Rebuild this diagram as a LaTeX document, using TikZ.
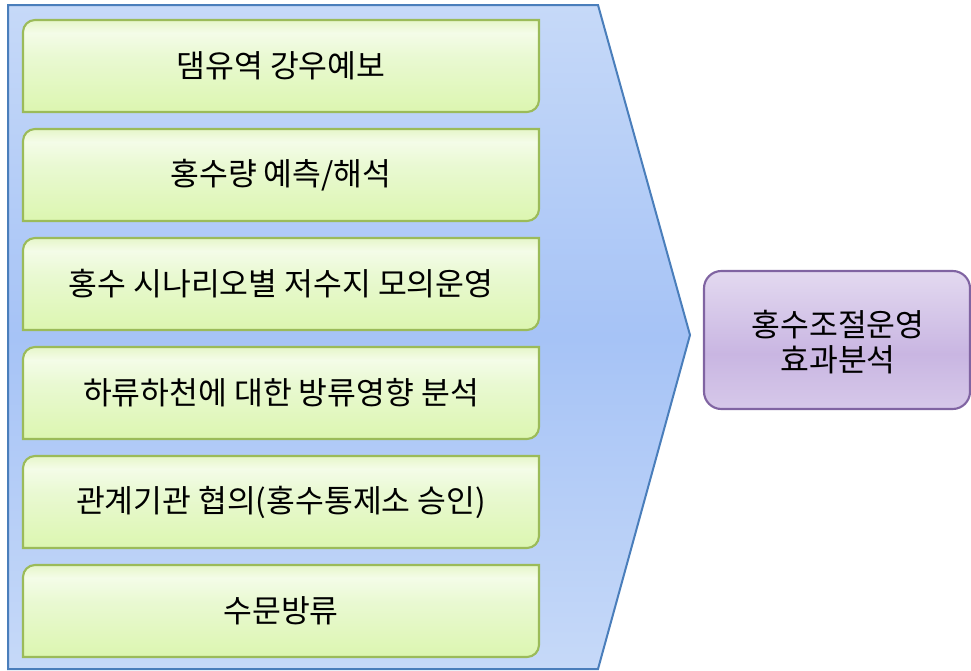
\documentclass[tikz,border=0pt]{standalone}
\usepackage{fontspec}
\newfontfamily\krfont{Noto Sans CJK KR}
\definecolor{blueEdge}{HTML}{4A7EBB}
\definecolor{blueTop}{HTML}{C6D9F8}
\definecolor{blueMid}{HTML}{A6C3F6}
\definecolor{greenEdge}{HTML}{9BBB59}
\definecolor{gTop}{HTML}{E6F6C9}
\definecolor{gHi}{HTML}{F4FCE8}
\definecolor{gMid}{HTML}{E9F9D2}
\definecolor{gBot}{HTML}{DCF6B0}
\definecolor{purpEdge}{HTML}{8064A2}
\definecolor{pTop}{HTML}{E3D9F0}
\definecolor{pMid}{HTML}{C9B6E2}
\definecolor{pBot}{HTML}{D6C8E9}
\pgfdeclareverticalshading{greensh}{100bp}{color(0bp)=(gBot); color(25bp)=(gBot); color(55bp)=(gMid); color(68bp)=(gHi); color(75bp)=(gTop); color(100bp)=(gTop)}
\pgfdeclareverticalshading{bluesh}{100bp}{color(0bp)=(blueTop); color(25bp)=(blueTop); color(50bp)=(blueMid); color(75bp)=(blueTop); color(100bp)=(blueTop)}
\pgfdeclareverticalshading{purpsh}{100bp}{color(0bp)=(pBot); color(25bp)=(pBot); color(45bp)=(pMid); color(75bp)=(pTop); color(100bp)=(pTop)}
\tikzset{
  chevron/.style={draw=blueEdge, line width=1.5pt, shading=bluesh, line join=miter},
  greenshape/.style={draw=greenEdge, line width=1.6pt, shading=greensh},
  gtext/.style={font=\krfont\fontsize{23.5}{28}\selectfont, text=black, inner sep=0pt},
  purpbox/.style={draw=purpEdge, line width=1.6pt, shading=purpsh, rounded corners=13pt},
  ptext/.style={font=\krfont\fontsize{23.5}{26}\selectfont, text=black, align=center, inner sep=0pt},
}
\newcommand{\gbox}[3]{%
  \pgfmathsetmacro{\ya}{#2}\pgfmathsetmacro{\yb}{#2+92}%
  \path[greenshape] (23,\ya+12) .. controls (23,\ya+5.4) and (28.4,\ya) .. (35,\ya)
    -- (539,\ya) -- (539,\yb-12) .. controls (539,\yb-5.4) and (533.6,\yb) .. (527,\yb)
    -- (23,\yb) -- cycle;
  \node[gtext] (#1) at (281,\ya+46) {#3};}
\begin{document}
\begin{tikzpicture}[x=0.75pt,y=-0.75pt]
\useasboundingbox (0,0) rectangle (971,671);
\path[chevron] (8,5) -- (598,5) -- (690,335) -- (598,669) -- (8,669) -- cycle;
\coordinate (tip) at (690,335);
\gbox{b1}{20}{댐유역 강우예보}
\gbox{b2}{129}{홍수량 예측/해석}
\gbox{b3}{238}{홍수 시나리오별 저수지 모의운영}
\gbox{b4}{347}{하류하천에 대한 방류영향 분석}
\gbox{b5}{456}{관계기관 협의(홍수통제소 승인)}
\gbox{b6}{565}{수문방류}
\path[purpbox] (704,271) rectangle (970,409);
\node[ptext] (res) at (838,342) {홍수조절운영\\효과분석};
\end{tikzpicture}
\end{document}
